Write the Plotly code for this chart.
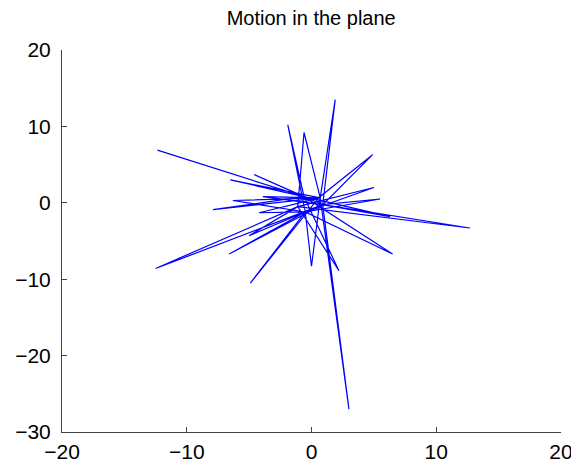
import plotly.graph_objects as go

# Path of the motion: far points alternate with points around the origin
path_x = [-12.35, -0.6, 6.3, 0.9, 1.9, 0.7, 0.0, -0.5, -1.9, -0.6, 2.2, -1.1,
          -0.6, 0.7, 3.0, 0.9, 4.9, 0.6, -4.9, -0.5, 5.0, -1.1, -12.5, 0.9,
          5.5, -0.5, -6.6, 0.9, 12.7, -1.1, -5.0, -0.5, 6.5, -0.6, -7.9, 0.7,
          -4.2, -0.5, -6.3, 0.7, -3.9, 0.9, -4.6, -0.6, -6.5, 0.7]
path_y = [6.9, 0.8, -1.8, -0.25, 13.5, 0.65, -8.3, -1.2, 10.2, 0.8, -8.9, -0.5,
          9.2, 0.65, -27.0, -0.25, 6.3, 0.7, -10.5, -1.2, 2.0, -0.5, -8.6, -0.25,
          0.5, -1.2, -6.7, -0.25, -3.3, -0.5, -4.3, -1.2, -6.7, 0.8, -0.9, 0.65,
          -1.3, -1.2, 0.3, 0.65, 0.8, -0.25, 3.7, 0.8, 3.0, 0.65]

x_ticks = [-20, -10, 0, 10, 20]
y_ticks = [-30, -20, -10, 0, 10, 20]

fig = go.Figure()
fig.add_trace(go.Scatter(x=path_x, y=path_y, mode="lines",
                         line=dict(color="#0000FF", width=1.2),
                         showlegend=False, hoverinfo="skip"))

axis_common = dict(showgrid=False, zeroline=False, showline=True,
                   linecolor="#444444", linewidth=1, ticks="inside",
                   ticklen=5, tickcolor="#444444", mirror=False,
                   automargin=False,
                   tickfont=dict(family="Liberation Sans, Arial, sans-serif",
                                 size=21, color="black"))

# page body has an 8px margin, so the figure is a bit smaller than the window
fig.update_layout(
    width=571, height=459,
    margin=dict(l=54, r=18, t=42, b=35),
    paper_bgcolor="white", plot_bgcolor="white",
    title=dict(text="Motion in the plane", x=0.531, xanchor="center",
               y=0.978, yanchor="middle",
               font=dict(family="Liberation Sans, Arial, sans-serif",
                         size=20, color="black")),
    xaxis=dict(range=[-20, 20], tickvals=x_ticks, ticklabelstandoff=1,
               **axis_common),
    yaxis=dict(range=[-30, 20], tickvals=y_ticks, ticklabelstandoff=6,
               **axis_common),
)

fig.write_html("out.html")
